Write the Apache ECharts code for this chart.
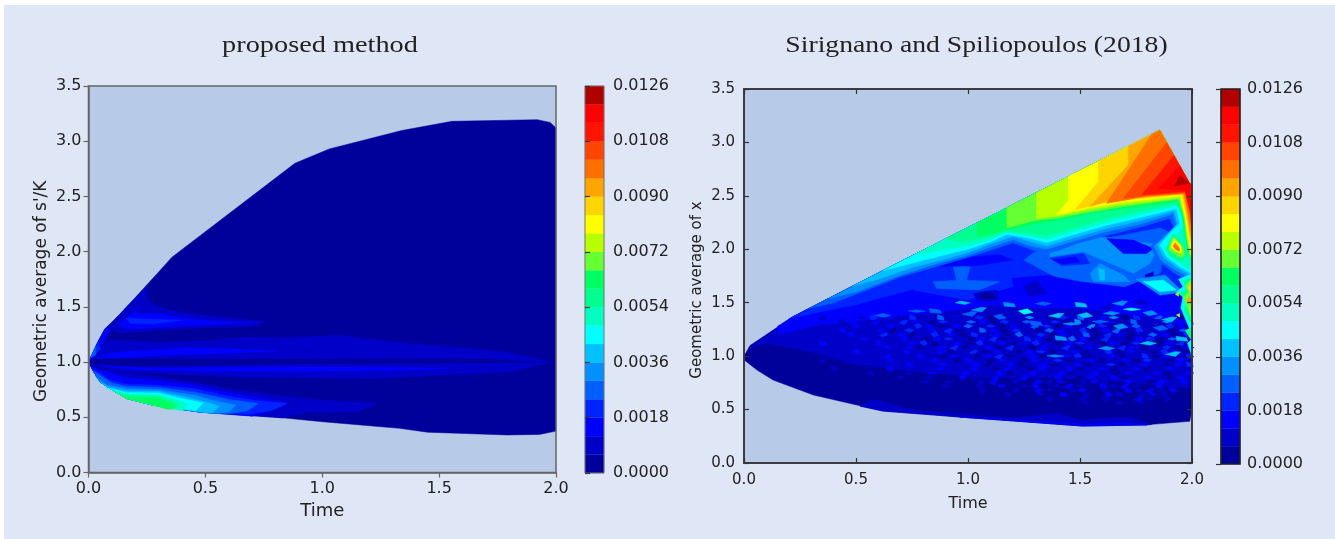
<!DOCTYPE html>
<html><head><meta charset="utf-8">
<script src="https://cdn.jsdelivr.net/npm/echarts@6/dist/echarts.min.js"></script>
<style>
html,body{margin:0;padding:0;background:#fff;overflow:hidden}
#bg{position:absolute;left:4px;top:5px;width:1331px;height:534px;background:#dfe6f5}
#c{position:absolute;left:0;top:0;width:1335px;height:539px;filter:blur(0.45px)}
</style></head><body><div id="bg"></div><div id="c"></div>
<script>
// ---- shared scale ----
const colorLevels=[0,.0006,.0012,.0018,.0024,.003,.0036,.0042,.0048,.0054,.006,.0066,.0072,.0078,.0084,.009,.0096,.0102,.0108,.0114,.012,.0126];
const levelColors=['#00009a','#0000c8','#0000ff','#0024ff','#0060ff','#0090ff','#00c0ff','#00ffff','#00ffc0','#00ff90','#00ff60','#66ff33','#b8ff00','#ffff00','#ffd500','#ffa500','#ff7000','#ff4500','#ff1400','#ff0000','#b00000'];

// ---- left panel: region boundary (time, geometric average) ----
const leftUpper=[[0,1],[.02,1.09],[.04,1.18],[.07,1.3],[.11,1.38],[.164,1.5],[.306,1.83],[.357,1.95],[.883,2.8],[1.03,2.93],[1.34,3.097],[1.555,3.18],[1.92,3.195],[1.975,3.17],[2,3.12]];
const leftLower=[[0,1],[.02,.92],[.05,.82],[.1,.75],[.164,.67],[.277,.61],[.477,.547],[.83,.495],[1,.46],[1.33,.4],[1.45,.365],[1.79,.34],[1.93,.345],[2,.375]];
// error contours: [level, outline]
const leftBands=[
[1,[[.1,1.35],[.164,1.5],[.25,1.68],[.25,1.56],[.3,1.5],[.375,1.46],[.55,1.41],[.76,1.365],[.7,1.32],[.5,1.31],[.3,1.29],[.147,1.26],[.09,1.29]]],
[2,[[.13,1.39],[.2,1.47],[.22,1.44],[.3,1.44],[.4,1.4],[.55,1.37],[.72,1.36],[.55,1.34],[.4,1.33],[.2,1.3],[.14,1.31]]],
[3,[[.16,1.4],[.23,1.39],[.4,1.38],[.28,1.345],[.18,1.35]]],
[1,[[.02,1.04],[.05,1.15],[.1,1.2],[.3,1.18],[.5,1.19],[.65,1.225],[.85,1.22],[1.076,1.243],[1.2,1.21],[1.36,1.17],[1.6,1.13],[1.79,1.09],[1.975,1],[1.7,1.03],[1.3,1.035],[1,1.03],[.7,1.03],[.4,1.03],[.15,1.03]]],
[1,[[.02,.98],[.2,.96],[.5,.97],[1,.985],[1.5,.985],[1.975,.995],[1.79,.91],[1.5,.88],[1.22,.85],[.65,.863],[.4,.885],[.2,.91],[.1,.92]]],
[2,[[.03,1.03],[.08,1.08],[.2,1.1],[.4,1.13],[.6,1.12],[.8,1.1],[.6,1.08],[.3,1.06],[.12,1.04]]],
[2,[[.05,.965],[.3,.945],[.6,.95],[.9,.955],[1.2,.95],[1.55,.945],[1.3,.925],[.9,.915],[.5,.92],[.2,.93]]],
[1,[[0,1],[.02,1.09],[.04,1.18],[.07,1.3],[.11,1.38],[.164,1.5],[.25,1.68],[.22,1.5],[.13,1.35],[.1,1.3],[.08,1.2],[.04,1.06]]],
[2,[[0,1],[.02,1.09],[.04,1.18],[.07,1.3],[.09,1.3],[.06,1.18],[.03,1.06]]],
[3,[[.005,1.03],[.02,1.09],[.04,1.18],[.05,1.12],[.025,1.05]]],
[4,[[.008,1.04],[.02,1.09],[.032,1.14],[.03,1.07]]]
];
// contours hugging the lower edge: [level, inner edge from lower boundary to lower boundary]
const leftCrescents=[
[1,[[0,1],[.05,.93],[.15,.9],[.3,.87],[.45,.82],[.6,.76],[.8,.7],[1,.655],[1.24,.63],[1.15,.55],[.93,.54],[.83,.495]]],
[2,[[.01,.96],[.15,.86],[.3,.83],[.45,.79],[.6,.72],[.85,.63],[.79,.565],[.7,.51]]],
[3,[[.015,.94],[.1,.83],[.164,.8],[.3,.79],[.45,.76],[.6,.69],[.72,.65],[.85,.625],[.78,.56],[.68,.525]]],
[4,[[.02,.92],[.1,.81],[.164,.78],[.3,.77],[.45,.73],[.6,.66],[.726,.625],[.68,.56],[.6,.53]]],
[5,[[.03,.87],[.08,.79],[.164,.76],[.3,.75],[.45,.7],[.55,.645],[.63,.61],[.6,.55],[.55,.535]]],
[6,[[.05,.82],[.09,.77],[.164,.74],[.3,.735],[.42,.68],[.5,.64],[.56,.6],[.53,.54]]],
[7,[[.07,.77],[.164,.725],[.3,.72],[.4,.67],[.49,.63],[.46,.56]]],
[8,[[.1,.75],[.164,.71],[.3,.705],[.37,.66],[.425,.62],[.4,.56]]],
[9,[[.12,.72],[.2,.695],[.3,.69],[.36,.65],[.39,.62],[.36,.57]]],
[10,[[.15,.685],[.22,.675],[.3,.675],[.35,.63],[.376,.6],[.34,.57]]]
];

// ---- right panel: region boundary ----
const rightUpper=[[0,1],[.027,1.1],[.22,1.37],[.62,1.8],[1.857,3.115],[1.988,2.62],[2,2.6]];
const rightLower=[[0,1],[.004,.96],[.058,.87],[.13,.776],[.31,.636],[.62,.486],[.964,.43],[1.51,.346],[1.78,.355],[1.99,.39],[2,.5]];
// interior contour patches, painted in this order
const rightInterior=[
[1,[[.027,1.08],[.1,1.12],[.3,1.04],[.5,.92],[.8,.85],[1.1,.8],[1.4,.8],[1.7,.76],[2,.7],[2,2.6],[1.988,2.62],[1.857,3.115],[.62,1.8],[.22,1.37]]],
[2,[[.15,1.28],[.15,1.2],[.3,1.28],[.5,1.33],[.7,1.38],[.9,1.42],[1.1,1.48],[1.3,1.45],[1.5,1.45],[1.7,1.4],[1.85,1.35],[2,1.3],[2,2.6],[1.988,2.62],[1.857,3.115],[.62,1.8],[.22,1.37]]],
[3,[[.2,1.35],[.35,1.42],[.5,1.48],[.62,1.55],[.8,1.65],[.95,1.7],[1.1,1.72],[1.3,1.75],[1.45,1.78],[1.6,1.75],[1.8,1.7],[1.95,1.6],[2,1.5],[2,2.6],[1.988,2.62],[1.857,3.115],[.62,1.8]]],
[2,[[.75,1.62],[.9,1.55],[1.02,1.5],[1.2,1.58],[1.36,1.6],[1.5,1.56],[1.4,1.7],[1.2,1.66],[1,1.74],[.85,1.72]]],
[3,[[.83,1.79],[1.187,1.806],[1.2,1.65],[.994,1.525],[.755,1.62]]],
[4,[[.934,1.837],[1.009,1.837],[.994,1.71],[1.142,1.697],[1.053,1.62],[.86,1.634],[.845,1.697],[.949,1.71]]],
[2,[[.87,1.9],[1.14,1.95],[1.2,1.9],[1.05,1.85],[.88,1.84]]],
[1,[[1.023,1.59],[1.128,1.62],[1.142,1.525],[1.038,1.525]]],
[0,[[1.05,1.58],[1.11,1.59],[1.12,1.54],[1.06,1.54]]],
[1,[[1.247,1.65],[1.306,1.71],[1.35,1.59],[1.276,1.556]]],
[4,[[1.3,1.98],[1.45,2.04],[1.66,2.12],[1.86,2.2],[1.95,2.1],[1.87,1.96],[1.86,1.78],[1.7,1.65],[1.5,1.7],[1.38,1.75],[1.25,1.9]]],
[5,[[1.366,2.07],[1.589,2.118],[1.857,2.04],[1.812,1.868],[1.738,1.775],[1.515,1.977],[1.366,1.93]]],
[3,[[1.366,1.915],[1.515,1.962],[1.545,1.868],[1.426,1.837]]],
[2,[[1.38,1.9],[1.48,1.93],[1.5,1.88],[1.42,1.86]]],
[2,[[1.619,2.1],[1.738,2.086],[1.827,2.008],[1.798,1.96],[1.693,1.96]]],
[4,[[1.366,1.837],[1.515,1.853],[1.455,1.743],[1.396,1.743]]],
[5,[[1.545,1.775],[1.589,1.868],[1.693,1.759],[1.723,1.697],[1.56,1.697]]],
[6,[[1.582,1.82],[1.61,1.806],[1.61,1.712],[1.589,1.712]]],
[1,[[1.79,1.759],[1.827,1.79],[1.827,1.712],[1.797,1.697]]],
[5,[[1.75,1.72],[1.88,1.76],[1.96,1.6],[1.857,1.57]]],
[7,[[1.783,1.697],[1.872,1.712],[1.931,1.619],[1.857,1.603]]]
];
const rightCrescents=[
[1,[[.518,.53],[.577,.595],[.771,.49],[.96,.46],[1.2,.42],[1.395,.465],[1.51,.4],[1.6,.42],[1.72,.425],[1.82,.36]]],
[2,[[.96,.43],[1.2,.4],[1.4,.38],[1.51,.365],[1.7,.375],[1.8,.355]]]
];
// wedge contours: inner edge from the upper boundary round to the right edge
const rightWedges=[
[4,[[.29,1.445],[.4,1.5],[.55,1.62],[.696,1.74],[.845,1.83],[.994,1.92],[1.1,1.99],[1.2,2.06],[1.28,2],[1.351,1.96],[1.42,2],[1.478,2.05],[1.619,2.13],[1.775,2.21],[1.9,2.29],[1.92,2.2],[1.87,2.12],[1.815,2.03],[1.845,1.9],[1.92,1.78],[2,1.68]]],
[5,[[.38,1.542],[.5,1.6],[.696,1.755],[.845,1.855],[.994,1.94],[1.1,2.02],[1.2,2.09],[1.28,2.03],[1.351,2],[1.478,2.08],[1.619,2.165],[1.775,2.24],[1.915,2.33],[1.93,2.22],[1.88,2.12],[1.83,2.03],[1.86,1.9],[1.93,1.8],[2,1.72]]],
[6,[[.487,1.657],[.6,1.72],[.75,1.83],[.9,1.91],[1,1.97],[1.1,2.05],[1.2,2.12],[1.28,2.07],[1.351,2.03],[1.478,2.11],[1.619,2.195],[1.775,2.27],[1.92,2.355],[1.935,2.24],[1.89,2.14],[1.845,2.04],[1.875,1.92],[1.94,1.82],[2,1.75]]],
[7,[[.62,1.8],[.75,1.87],[.9,1.95],[1,2],[1.1,2.07],[1.173,2.14],[1.28,2.1],[1.351,2.06],[1.478,2.14],[1.619,2.226],[1.775,2.3],[1.931,2.38],[1.946,2.24],[1.902,2.15],[1.857,2.04],[1.887,1.93],[1.946,1.836],[2,1.77]]],
[8,[[.763,1.952],[.85,1.98],[1,2.03],[1.1,2.09],[1.173,2.16],[1.28,2.12],[1.351,2.09],[1.478,2.17],[1.619,2.25],[1.775,2.33],[1.935,2.41],[1.955,2.3],[1.96,2.2],[1.91,2.1],[1.88,2],[1.91,1.93],[1.96,1.85],[2,1.8]]],
[9,[[.897,2.094],[.97,2.07],[1.1,2.12],[1.173,2.17],[1.28,2.15],[1.351,2.13],[1.478,2.2],[1.619,2.29],[1.775,2.36],[1.945,2.43],[1.955,2.3],[1.965,2.12],[1.98,1.95],[2,1.85]]],
[10,[[1.04,2.246],[1.04,2.12],[1.173,2.18],[1.306,2.24],[1.396,2.27],[1.545,2.336],[1.693,2.38],[1.931,2.445],[1.96,2.3],[1.97,2.12],[1.985,1.95],[2,1.88]]],
[11,[[1.173,2.388],[1.173,2.2],[1.3,2.27],[1.396,2.29],[1.545,2.35],[1.693,2.4],[1.94,2.47],[1.965,2.3],[1.975,2.12],[1.99,1.95],[2,1.9]]],
[12,[[1.306,2.529],[1.306,2.29],[1.396,2.31],[1.545,2.37],[1.693,2.42],[1.945,2.48],[1.968,2.3],[1.98,2.12],[1.99,1.97],[2,1.92]]],
[13,[[1.448,2.68],[1.448,2.46],[1.396,2.32],[1.545,2.39],[1.693,2.44],[1.95,2.5],[1.97,2.3],[1.983,2.12],[2,1.95]]],
[14,[[1.582,2.823],[1.582,2.63],[1.478,2.37],[1.6,2.43],[1.75,2.47],[1.955,2.51],[1.975,2.3],[1.987,2.12],[2,2]]],
[15,[[1.716,2.965],[1.716,2.79],[1.545,2.4],[1.62,2.45],[1.8,2.49],[1.96,2.52],[1.98,2.3],[1.99,2.15],[2,2.05]]],
[16,[[1.82,3.076],[1.619,2.43],[1.7,2.46],[1.8,2.5],[1.965,2.52],[1.985,2.3],[2,2.1]]]
];
// hottest corner and hot spots, painted last
const rightHot=[
[17,[[1.887,3],[1.693,2.475],[1.8,2.5],[1.97,2.53],[1.99,2.35],[2,2.15],[2,2.6],[1.988,2.62]]],
[18,[[1.92,2.877],[1.775,2.51],[1.85,2.52],[1.97,2.54],[1.992,2.35],[2,2.2],[2,2.6],[1.988,2.62]]],
[19,[[1.946,2.78],[1.85,2.57],[1.97,2.55],[1.994,2.35],[2,2.25],[2,2.6],[1.988,2.62]]],
[20,[[1.946,2.69],[1.92,2.59],[1.988,2.62]]],
[9,[[1.915,2.15],[1.96,2.05],[1.98,1.95],[1.95,1.88],[1.9,1.94],[1.885,2]]],
[11,[[1.915,2.12],[1.955,2.04],[1.97,1.95],[1.95,1.92],[1.91,1.97],[1.895,2]]],
[13,[[1.92,2.1],[1.95,2.03],[1.955,1.96],[1.93,1.98],[1.905,2.02]]],
[16,[[1.925,2.06],[1.945,2.01],[1.945,1.98],[1.925,2],[1.915,2.03]]],
[7,[[2,1.77],[1.94,1.72],[1.96,1.65],[1.93,1.6],[1.96,1.56],[1.95,1.45],[1.97,1.35],[2,1.2]]],
[9,[[2,1.74],[1.96,1.7],[1.975,1.63],[1.945,1.58],[1.975,1.52],[1.965,1.42],[1.985,1.34],[2,1.3]]],
[11,[[2,1.72],[1.97,1.66],[1.985,1.6],[1.96,1.55],[1.98,1.45],[2,1.35]]],
[14,[[2,1.69],[1.98,1.64],[2,1.58]]],
[15,[[2,1.55],[1.975,1.53],[2,1.48]]],
[12,[[1.925,1.58],[1.94,1.6],[1.94,1.56]]],
[12,[[1.93,1.385],[1.945,1.4],[1.945,1.365]]],
[9,[[1.97,1.24],[2,1.27],[2,1.14]]],
[7,[[1.98,1.12],[2,1.16],[2,1]]]
];
// larger bright pockets in the noisy part of the right panel: [time, average, level]
const rightPockets=[[.979,1.5,6],[1.254,1.415,7],[1.396,1.384,6],[1.5,1.478,6],[1.73,1.437,7],[1.805,1.119,6],[1.678,1.275,5],[1.916,1.025,6],[1.41,1.166,5],[1.388,1,5],[1.619,1.072,5],[1.143,1.368,4],[1.009,1.4,4],[1.299,1.306,4],[1.589,1.322,4],[1.336,1.49,4],[1.857,1.26,4],[1.05,1.44,5],[1.18,1.48,5],[1.46,1.3,5],[1.64,1.4,5],[1.81,1.4,5],[1.9,1.35,6],[.85,1.42,4],[.77,1.42,4],[.62,1.38,4],[1.52,1.38,6],[1.68,1.5,5],[1.95,1.16,6],
[1.08,1.52,1],[1.33,1.36,1],[1.47,1.42,1],[1.62,1.46,1],[1.77,1.5,1],[1.66,1.33,1],[.97,1.36,1],[1.18,1.38,1],[1.83,1.33,1]];
const speckleRowTop=1.36,speckleRowStep=.04,speckleColLeft=.3,speckleColStep=.025;
const speckleRows=[
"..1..2...1.3..2...3.1..4..2.1.3.0.4.1..5.2.0.3..4.1.2.5.0.3.1.4.2.0.5",
".2...1.2...2.1..3.2..0.3.1..4.2.0.3.1.4.2..3.0.5.1.3.2.0.4.1.3.5.2.0.",
"..1.....2.1...2..1.3.2.0..2.4.1.3.0.2.1.4.3.0.2.1.5.3.0.2.4.1.0.3.2.5",
".....2...1..2.0..3.1.2..3.0.1.4.2.0.3.1.0.4.2.1.3.0.2.4.0.3.1.2.0.4.3",
"...1...2...1.3..2.0.1.3..2.0.3.1.2.0.4.1.3.0.2.1.4.0.3.2.0.1.4.2.0.3.",
"......1..2...1..2.1.0.2.3.1.0.2.3.0.1.3.2.0.1.4.2.0.3.1.0.2.3.0.4.1.2",
"..2.....1...2...1.2.3.0.1.2.0.3.1.2.0.2.3.1.0.2.3.1.0.2.0.3.1.0.2.3.0",
".....1.....1.2...2.0.1.2.3.0.1.2.0.3.1.0.2.1.3.0.2.1.0.3.2.0.1.3.0.2.",
"...1....2....1...2.1...2.0.1.3.0.2.1.0.2.3.0.1.2.0.1.3.0.2.1.0.3.2.0.",
".......1.....2.1...2.1.0.2.1.0.2.3.0.1.2.0.1.2.3.0.1.2.0.1.3.0.2.1.3",
"..1.......1...2...1...2.1.0.2.1.0.2.1.0.2.1.3.0.1.2.0.1.2.0.3.1.0.2.",
".........1....1..2...1.2...1.2.0.1.2.0.1.2.0.1.2.0.1.3.0.1.2.1.0.2.3",
"....1.........2...1....2.1...2.1.0.2.1.0.2.1..2.0.1.2.0.1.2.0.1.2.1.",
"..........1......1...2...1.2...1.2.0.1.2..1.2.0.1.2.1.0.2.1..2.0.1.2",
"................1....1.....2.1...2..1.2.1...2.1.0.2.1.2.0.1.2.1.0.2.",
"....................1...1.....1.2...1...2.1.2...1.2.1...2.1.0.2.1.2",
"........................1.....1...2...1.2...1.2.1...2.1.2.1...2.1.",
"..............................1.....1...2.1...1.2...1...2.1.2.1.2",
"...................................1.....1...2...1...2.1...1.2.1.",
"..........................................1.....1...1.....2.1..1",
".................................................1.....1...1..."
];

// ---- helpers: assemble polygons from the arrays above ----
const between=(list,a,b)=>list.filter(p=>p[0]>a&&p[0]<b);
const crescentOf=(inner,lower)=>inner.concat(between(lower,inner[0][0],inner[inner.length-1][0]).reverse());
const wedgeOf=(inner,upper)=>inner.concat(upper.filter(p=>p[0]>inner[0][0]).reverse());
const outlineShapes=[[[-1,0],[-.1,.7],[1,.1],[.2,-.6]],[[-.8,.3],[.3,1],[1,-.2],[-.1,-.8]],[[-1,-.3],[.2,.6],[.9,.5],[.3,-1]],[[-.6,.9],[.7,.4],[.9,-.7],[-.5,-.5]],[[-1,.1],[0,.5],[1.1,0],[0,-.4]]];
const pocket=(p,i,dt,dv)=>[p[2],outlineShapes[i%5].map(s=>[p[0]+s[0]*dt,p[1]+s[1]*dv])];
const specklePolys=[];
speckleRows.forEach((row,r)=>{
  [...row].forEach((ch,c)=>{
    if(ch==='.')return;
    const t=speckleColLeft+(c+(r%2)*.5)*speckleColStep,v=speckleRowTop-r*speckleRowStep;
    if(t<=1.995)specklePolys.push(pocket([t,v,+ch],c+r,.02,.03));
  });
});
const plotFrame=[-1,[[0,0],[2,0],[2,3.5],[0,3.5]]];

const leftPolys=[[0,leftUpper.concat(leftLower.slice(1).reverse())]]
 .concat(leftBands.slice(0,7))
 .concat(leftCrescents.map(b=>[b[0],crescentOf(b[1],leftLower)]))
 .concat(leftBands.slice(7),[plotFrame]);
const rightPolys=[[0,rightUpper.concat(rightLower.slice(1).reverse())]]
 .concat(rightInterior.slice(0,1))
 .concat(rightCrescents.map(b=>[b[0],crescentOf(b[1],rightLower)]))
 .concat(rightInterior.slice(1,3))
 .concat(specklePolys)
 .concat(rightPockets.map((p,i)=>pocket(p,i,.036,.028)))
 .concat(rightInterior.slice(3))
 .concat(rightWedges.map(b=>[b[0],wedgeOf(b[1],rightUpper)]))
 .concat(rightHot,[plotFrame]);

function polySeries(ax,polys,frameColor){
  return {type:'custom',coordinateSystem:'cartesian2d',xAxisIndex:ax,yAxisIndex:ax,silent:true,animation:false,clip:false,progressive:0,z:2,
    data:polys.map((p,i)=>[p[1][0][0],p[1][0][1],i]),
    renderItem:(params,api)=>{
      const p=polys[params.dataIndex],pts=p[1].map(q=>api.coord(q));
      if(p[0]<0)return {type:'polygon',shape:{points:pts},style:{fill:'none',stroke:frameColor,lineWidth:1.5}};
      const c=levelColors[p[0]];
      return {type:'polygon',shape:{points:pts},style:{fill:c,stroke:c,lineWidth:.5}};
    }};
}
function barSeries(ax,frameColor,frameWidth){
  const cells=levelColors.map((c,i)=>[0,colorLevels[i],1,colorLevels[i+1],i]);
  cells.push([0,0,1,.0126,-1]);
  return {type:'custom',coordinateSystem:'cartesian2d',xAxisIndex:ax,yAxisIndex:ax,silent:true,animation:false,z:2,clip:false,data:cells,
    renderItem:(params,api)=>{
      const a=api.coord([api.value(0),api.value(1)]),b=api.coord([api.value(2),api.value(3)]);
      const k=api.value(4),shape={x:a[0],y:b[1],width:b[0]-a[0],height:a[1]-b[1]};
      if(k<0)return {type:'rect',shape,style:{fill:'none',stroke:frameColor,lineWidth:frameWidth}};
      return {type:'rect',shape,style:{fill:levelColors[k],stroke:levelColors[k],lineWidth:.3}};
    }};
}
const ink='#222',spine='#666',spineDark='#333';
const xPlot=(gi,fs,nameFs,gap,inside,col)=>({gridIndex:gi,type:'value',min:0,max:2,interval:.5,name:'Time',nameLocation:'middle',nameGap:gap,
  nameTextStyle:{fontFamily:'DejaVu Sans',fontSize:nameFs,color:ink},z:10,
  axisLine:{show:true,onZero:false,lineStyle:{color:col,width:1.5}},splitLine:{show:false},
  axisTick:{show:true,inside,length:5,lineStyle:{color:col,width:1.2}},
  axisLabel:{fontFamily:'DejaVu Sans',fontSize:fs,color:ink,margin:inside?10:8,formatter:v=>v.toFixed(1),showMinLabel:true,showMaxLabel:true,hideOverlap:false}});
const yPlot=(gi,name,fs,nameFs,gap,inside,col,shift)=>({gridIndex:gi,type:'value',min:0,max:3.5,interval:.5,name,nameLocation:'middle',nameGap:gap,
  nameTextStyle:{fontFamily:'DejaVu Sans',fontSize:nameFs,color:ink,padding:[0,shift,0,0]},z:10,
  axisLine:{show:true,onZero:false,lineStyle:{color:col,width:1.5}},splitLine:{show:false},
  axisTick:{show:true,inside,length:5,lineStyle:{color:col,width:1.2}},
  axisLabel:{fontFamily:'DejaVu Sans',fontSize:fs,color:ink,margin:inside?9:7,padding:[7,0,0,0],formatter:v=>v.toFixed(1),showMinLabel:true,showMaxLabel:true,hideOverlap:false}});
const xBar=gi=>({gridIndex:gi,type:'value',min:0,max:1,show:false});
const yBar=(gi,fs,inside,margin)=>({gridIndex:gi,type:'value',min:0,max:.0126,interval:.0018,position:'right',z:10,
  axisLine:{show:false},splitLine:{show:false},
  axisTick:{show:true,inside,length:5,lineStyle:{color:'#333',width:1.2}},
  axisLabel:{fontFamily:'DejaVu Sans',fontSize:fs,color:ink,margin,padding:[6,0,0,0],formatter:v=>v.toFixed(4),showMinLabel:true,showMaxLabel:true,hideOverlap:false}});
const mirror=(base)=>Object.assign({},base,{name:'',axisLabel:{show:false}});
const titleText=(text,x,sx)=>({type:'text',x,y:46,scaleX:sx,z:20,style:{text,textAlign:'center',textVerticalAlign:'middle',fontFamily:'Liberation Serif',fontSize:24,fill:'#222'}});

const option={
  animation:false,
  graphic:[titleText('proposed method',320,1.18),titleText('Sirignano and Spiliopoulos (2018)',976.5,1.154)],
  grid:[
    {left:88.5,top:86,width:467.5,height:386.5,show:true,backgroundColor:'#b7cae8',borderWidth:0,containLabel:false},
    {left:744,top:89,width:448,height:374,show:true,backgroundColor:'#b7cae8',borderWidth:0,containLabel:false},
    {left:585,top:86,width:19,height:387,show:false},
    {left:1221,top:89,width:19,height:375,show:false}
  ],
  xAxis:[xPlot(0,16,18,30,false,spine),xPlot(1,15,16,33,true,spineDark),xBar(2),xBar(3),
    Object.assign(mirror(xPlot(1,15,16,33,true,spineDark)),{position:'top'})],
  yAxis:[yPlot(0,"Geometric average of s'/K",16,17,38,false,spine,24),yPlot(1,'Geometric average of x',15,15,39,true,spineDark,28),
    yBar(2,16,false,9),yBar(3,16,true,7),
    Object.assign(mirror(yPlot(1,'',15,15,36,true,spineDark,0)),{position:'right'})],
  series:[polySeries(0,leftPolys,spine),polySeries(1,rightPolys,spineDark),barSeries(2,'#777',1),barSeries(3,'#222',1.6),
    {type:'line',xAxisIndex:4,yAxisIndex:4,data:[],silent:true}]
};
echarts.init(document.getElementById('c'),null,{renderer:'canvas'}).setOption(option);
</script></body></html>
